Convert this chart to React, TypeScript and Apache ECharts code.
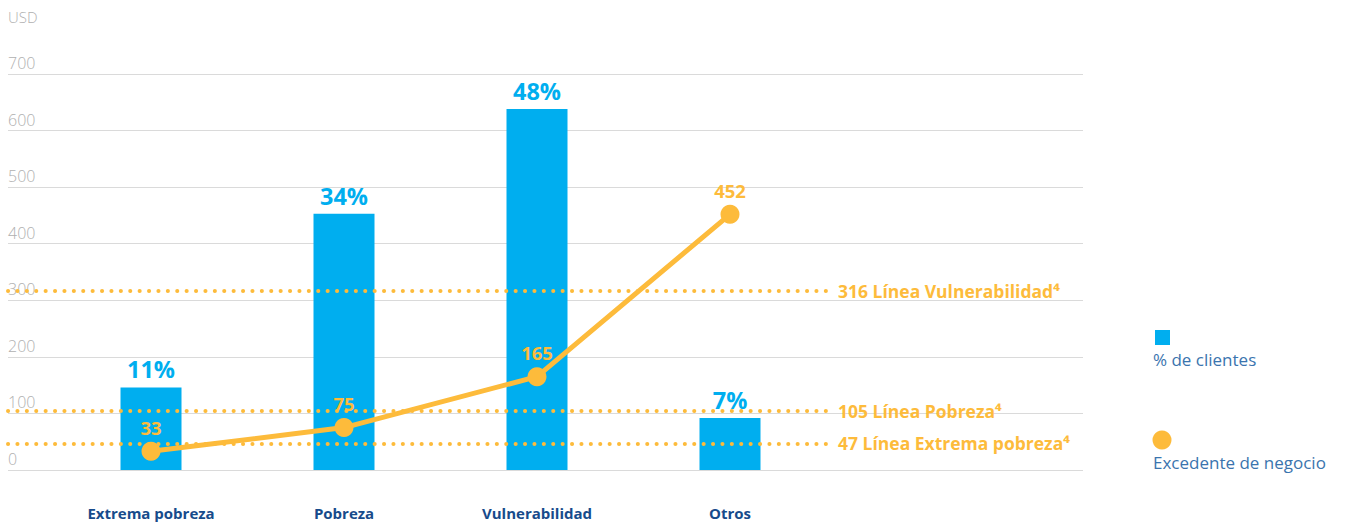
import React, { useEffect, useRef } from "react";
import * as echarts from "echarts";

const categories = ["Extrema pobreza", "Pobreza", "Vulnerabilidad", "Otros"];
const barHeights = [146, 453, 638, 92];
const barLabels = ["11%", "34%", "48%", "7%"];
const surplus = [33, 75, 165, 452];
const thresholdValues = [316, 105, 47];
const thresholdNames = ["Línea Vulnerabilidad⁴", "Línea Pobreza⁴", "Línea Extrema pobreza⁴"];
const yTicks = [0, 100, 200, 300, 400, 500, 600, 700];

const BLUE = "#00AEEF";
const ORANGE = "#FDBB3B";
const NAVY = "#174B8B";
const GRAY = "#B0B0B0";
const FONT = "'Open Sans', 'Noto Sans', sans-serif";

export default function App() {
  const ref = useRef<HTMLDivElement>(null);
  useEffect(() => {
    if (!ref.current) return;
    const chart = echarts.init(ref.current, undefined, { renderer: "svg" });
    const top = 74;
    const height = 396;
    chart.setOption({
      animation: false,
      textStyle: { fontFamily: FONT },
      grid: [
        { left: 8, top, width: 1075, height },
        { left: 54.5, top, width: 772, height },
        { left: 8, top, width: 822, height },
      ],
      xAxis: [
        { gridIndex: 0, type: "value", show: false, min: 0, max: 1 },
        {
          gridIndex: 1,
          type: "category",
          data: categories,
          axisLine: { show: false },
          axisTick: { show: false },
          axisLabel: {
            margin: 35,
            color: NAVY,
            fontWeight: "bold",
            fontSize: 15,
            fontFamily: FONT,
          },
        },
        { gridIndex: 2, type: "value", show: false, min: 0, max: 1 },
      ],
      yAxis: [
        {
          gridIndex: 0,
          type: "value",
          min: yTicks[0],
          max: yTicks[yTicks.length - 1],
          interval: 100,
          name: "USD",
          nameLocation: "end",
          nameGap: 50,
          nameTextStyle: { color: GRAY, fontSize: 15, align: "left", fontFamily: FONT, fontWeight: 300 },
          axisLine: { show: false },
          axisTick: { show: false },
          splitLine: { lineStyle: { color: "#DADADA", width: 1 } },
          axisLabel: {
            inside: true,
            margin: 0,
            verticalAlign: "bottom",
            padding: [0, 0, 3, 0],
            color: GRAY,
            fontSize: 16,
            fontWeight: 300,
            fontFamily: FONT,
          },
        },
        { gridIndex: 1, type: "value", min: 0, max: 700, show: false },
        { gridIndex: 2, type: "value", min: 0, max: 700, show: false },
      ],
      series: [
        {
          type: "line",
          xAxisIndex: 2,
          yAxisIndex: 2,
          data: [],
          z: 1,
          markLine: {
            silent: true,
            symbol: ["none", "none"],
            lineStyle: { color: ORANGE, type: [0.1, 9.3], width: 4, cap: "round" },
            label: {
              position: "end",
              distance: 8,
              color: ORANGE,
              fontWeight: "bold",
              fontSize: 17.5,
              fontFamily: FONT,
            },
            data: thresholdValues.map((v, i) => ({
              yAxis: v,
              label: { formatter: `${v} ${thresholdNames[i]}` },
            })),
          },
        },
        {
          type: "bar",
          xAxisIndex: 1,
          yAxisIndex: 1,
          name: "% de clientes",
          data: barHeights,
          barWidth: 61,
          z: 3,
          itemStyle: { color: BLUE },
          label: {
            show: true,
            position: "top",
            distance: 6,
            formatter: (p: any) => barLabels[p.dataIndex],
            color: BLUE,
            fontWeight: "bold",
            fontSize: 23.5,
            fontFamily: FONT,
          },
        },
        {
          type: "line",
          xAxisIndex: 1,
          yAxisIndex: 1,
          name: "Excedente de negocio",
          data: surplus,
          z: 4,
          symbol: "circle",
          symbolSize: 19,
          lineStyle: { color: ORANGE, width: 5 },
          itemStyle: { color: ORANGE },
          label: {
            show: true,
            position: "top",
            distance: 5,
            color: ORANGE,
            fontWeight: "bold",
            fontSize: 18.5,
            fontFamily: FONT,
          },
        },
      ],
      graphic: [
        { type: "rect", left: 1155, top: 330, shape: { width: 15, height: 15 }, style: { fill: BLUE } },
        {
          type: "text",
          left: 1153,
          top: 351,
          style: { text: "% de clientes", fill: "#3A74AE", fontSize: 17, fontFamily: FONT },
        },
        { type: "circle", shape: { cx: 1162, cy: 440, r: 9.5 }, style: { fill: ORANGE } },
        {
          type: "text",
          left: 1153,
          top: 454,
          style: { text: "Excedente de negocio", fill: "#3A74AE", fontSize: 17, fontFamily: FONT },
        },
      ],
    });
    return () => chart.dispose();
  }, []);
  return (
    <div
      ref={ref}
      style={{ position: "fixed", left: 0, top: 0, width: 1346, height: 522, background: "#fff" }}
    />
  );
}
